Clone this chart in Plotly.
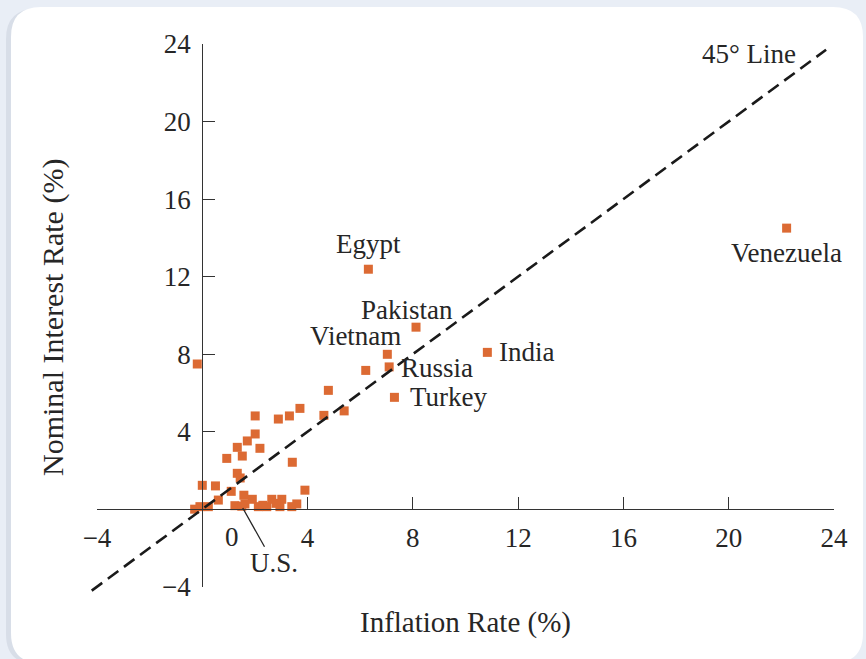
import plotly.graph_objects as go

# ---------------- data ----------------
COUNTRY_NAMES = ["Egypt", "Pakistan", "Vietnam", "Russia", "Turkey", "India", "Venezuela"]
COUNTRY_INFLATION = [6.31, 8.12, 7.03, 7.10, 7.30, 10.83, 22.20]
COUNTRY_INTEREST = [12.38, 9.39, 7.99, 7.34, 5.77, 8.09, 14.50]

US_INFLATION = 1.50
US_INTEREST = 0.15

OTHER_INFLATION = [-0.19, 6.21, 4.79, 3.71, 3.31, 4.62, 5.39, 2.89, 2.01, 2.01,
                   1.71, 1.33, 2.19, 1.52, 0.93, 3.42, 1.33, 1.44, 0.00, 0.50,
                   1.10, 0.61, 3.90, -0.29, -0.09, 0.23, 1.24, 1.58, 1.62, 1.90,
                   2.13, 2.45, 2.64, 3.02, 2.95, 3.40, 3.59, 2.30, 2.80]
OTHER_INTEREST = [7.49, 7.16, 6.13, 5.20, 4.81, 4.84, 5.07, 4.65, 4.81, 3.88,
                  3.52, 3.19, 3.14, 2.74, 2.62, 2.42, 1.85, 1.61, 1.23, 1.20,
                  0.92, 0.47, 0.98, 0.00, 0.13, 0.13, 0.18, 0.72, 0.27, 0.51,
                  0.13, 0.13, 0.51, 0.51, 0.13, 0.13, 0.27, 0.20, 0.30]

LINE_45 = [-4.2, 23.7]

X_TICKS = [-4, 4, 8, 12, 16, 20, 24]
Y_TICKS = [-4, 4, 8, 12, 16, 20, 24]
X_ZERO_LABEL = "0"

X_TITLE = "Inflation Rate (%)"
Y_TITLE = "Nominal Interest Rate (%)"
LINE_LABEL = "45° Line"
US_LABEL = "U.S."

# label offsets (pixels) relative to each country point
LABEL_XSHIFT = [0, -9, -32, 10, 14, 10, 0]
LABEL_YSHIFT = [25, 17, 18, -1, 0, 0, -25]
LABEL_ANCHOR = ["center", "center", "center", "left", "left", "left", "center"]

# ---------------- geometry ----------------
W, H = 866, 659
AX_MIN, AX_MAX = -4, 24
XPX = (97.0, 834.0)     # pixel of AX_MIN, AX_MAX on x
YPX = (586.7, 44.0)     # pixel of AX_MIN, AX_MAX on y

sx = (XPX[1] - XPX[0]) / (AX_MAX - AX_MIN)
sy = (YPX[0] - YPX[1]) / (AX_MAX - AX_MIN)
x0px = XPX[0] - AX_MIN * sx
y0px = YPX[1] + AX_MAX * sy

x2range = [(0 - x0px) / sx, (W - x0px) / sx]
y2range = [(y0px - H) / sy, y0px / sy]

ORANGE = "#dc6a33"
INK = "#262626"
BG = "#e9eef6"
FONT = "Liberation Serif"

fig = go.Figure()

# 45 degree line on the full-page data axes (so it is not clipped at -4)
fig.add_trace(go.Scatter(
    x=LINE_45, y=LINE_45, xaxis="x2", yaxis="y2", mode="lines",
    line=dict(color="#1a1a1a", width=2.6, dash="13px,7px"),
    hoverinfo="skip", showlegend=False))

fig.add_trace(go.Scatter(
    x=OTHER_INFLATION + COUNTRY_INFLATION + [US_INFLATION],
    y=OTHER_INTEREST + COUNTRY_INTEREST + [US_INTEREST],
    xaxis="x", yaxis="y", mode="markers", cliponaxis=False,
    marker=dict(symbol="square", size=9, color=ORANGE, line=dict(width=0)),
    showlegend=False))

annotations = []
for name, xv, yv, xs, ys, anc in zip(COUNTRY_NAMES, COUNTRY_INFLATION, COUNTRY_INTEREST,
                                     LABEL_XSHIFT, LABEL_YSHIFT, LABEL_ANCHOR):
    annotations.append(dict(x=xv, y=yv, xref="x2", yref="y2", text=name, showarrow=False,
                            xanchor=anc, yanchor="middle", xshift=xs, yshift=ys,
                            font=dict(family=FONT, size=27, color=INK)))

annotations.append(dict(x=LINE_45[1], y=LINE_45[1], xref="x2", yref="y2", text=LINE_LABEL,
                        showarrow=False, xanchor="right", yanchor="middle",
                        xshift=-28, yshift=-4, font=dict(family=FONT, size=27, color=INK)))

annotations.append(dict(x=US_INFLATION, y=US_INTEREST, xref="x2", yref="y2", text=US_LABEL,
                        showarrow=True, arrowhead=0, arrowwidth=1.3, arrowcolor=INK,
                        ax=32, ay=57, axref="pixel", ayref="pixel", standoff=2,
                        font=dict(family=FONT, size=27, color=INK)))

annotations.append(dict(x=1.12, y=0, xref="x2", yref="y2", text=X_ZERO_LABEL, showarrow=False,
                        xanchor="center", yanchor="middle", yshift=-28,
                        font=dict(family=FONT, size=27, color=INK)))

annotations.append(dict(x=465 / W, y=1 - 622 / H, xref="paper", yref="paper", text=X_TITLE,
                        showarrow=False, xanchor="center", yanchor="middle",
                        font=dict(family=FONT, size=29, color=INK)))
annotations.append(dict(x=53 / W, y=1 - 318 / H, xref="paper", yref="paper", text=Y_TITLE,
                        showarrow=False, textangle=-90, xanchor="center", yanchor="middle",
                        font=dict(family=FONT, size=30, color=INK)))


def px(x, y):
    return x / W, 1 - y / H


def rounded_path(x0, y0, x1, y1, r):
    pts = [
        ("M", [(x0 + r, y0)]), ("L", [(x1 - r, y0)]), ("Q", [(x1, y0), (x1, y0 + r)]),
        ("L", [(x1, y1 - r)]), ("Q", [(x1, y1), (x1 - r, y1)]), ("L", [(x0 + r, y1)]),
        ("Q", [(x0, y1), (x0, y1 - r)]), ("L", [(x0, y0 + r)]), ("Q", [(x0, y0), (x0 + r, y0)]),
    ]
    s = ""
    for cmd, ps in pts:
        s += cmd + " " + " ".join("%.5f,%.5f" % px(a, b) for a, b in ps) + " "
    return s + "Z"


shapes = [
    dict(type="path", xref="paper", yref="paper", layer="below",
         path=rounded_path(6, 9, 861, 664, 30), fillcolor="#d8dee8", line=dict(width=0)),
    dict(type="path", xref="paper", yref="paper", layer="below",
         path=rounded_path(11, 7, 863, 663, 30), fillcolor="white", line=dict(width=0)),
]

axis_common = dict(showgrid=False, zeroline=False, showline=True, linecolor="#333333",
                   linewidth=1.4, ticks="inside", tickcolor="#333333", tickwidth=1.4,
                   ticklen=12, range=[AX_MIN, AX_MAX], automargin=False, fixedrange=True,
                   tickfont=dict(family=FONT, size=27, color=INK))

fig.update_layout(
    width=W, height=H,
    margin=dict(l=0, r=0, t=0, b=0),
    paper_bgcolor=BG,
    plot_bgcolor="rgba(0,0,0,0)",
    showlegend=False,
    xaxis=dict(axis_common, domain=[XPX[0] / W, XPX[1] / W], anchor="free",
               position=1 - y0px / H, tickvals=X_TICKS,
               ticktext=[("−%d" % -v) if v < 0 else str(v) for v in X_TICKS],
               ticklabelstandoff=4),
    yaxis=dict(axis_common, domain=[1 - YPX[0] / H, 1 - YPX[1] / H], anchor="free",
               position=x0px / W, tickvals=Y_TICKS,
               ticktext=[("−%d" % -v) if v < 0 else str(v) for v in Y_TICKS],
               ticklabelstandoff=6),
    xaxis2=dict(domain=[0, 1], range=x2range, anchor="y2", visible=False, fixedrange=True),
    yaxis2=dict(domain=[0, 1], range=y2range, anchor="x2", visible=False, fixedrange=True),
    annotations=annotations,
    shapes=shapes,
)

fig.write_html("out.html",
               config={"displayModeBar": False},
               post_script="document.body.style.margin='0px';"
                           "document.body.style.background='%s';" % BG)
